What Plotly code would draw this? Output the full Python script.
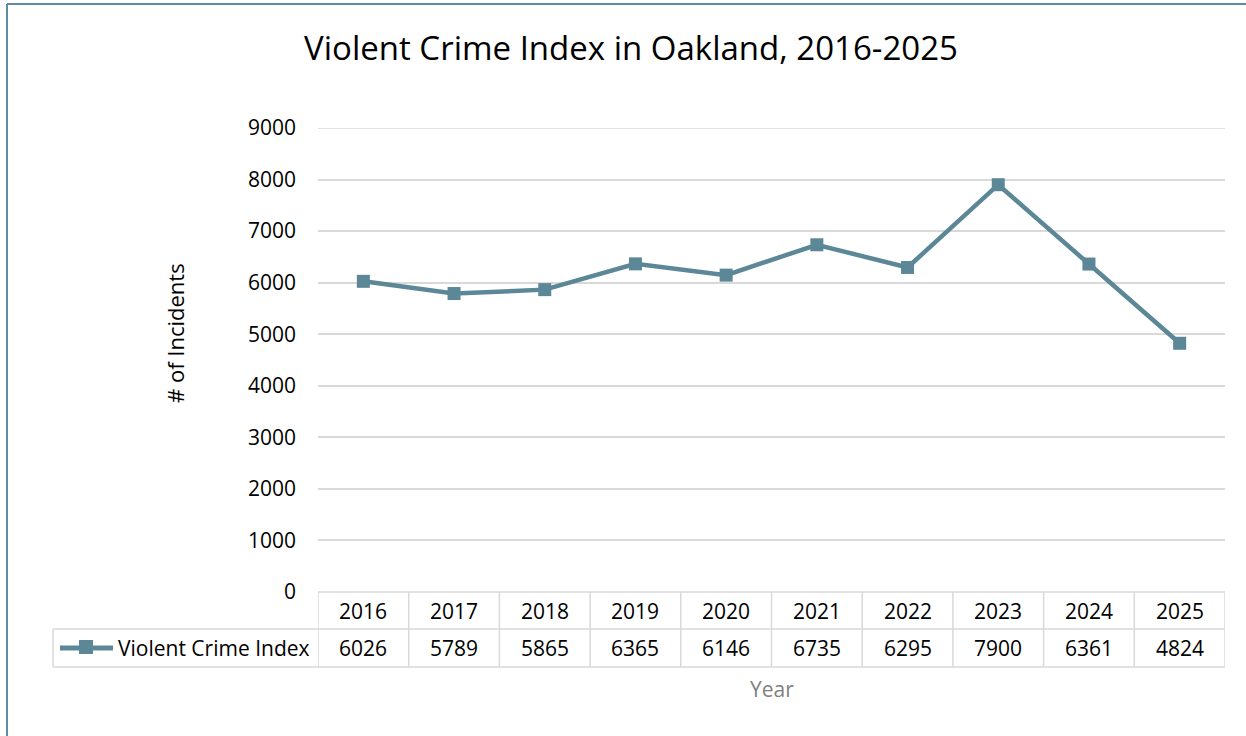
import plotly.graph_objects as go

# ---- data ----
years = [2016, 2017, 2018, 2019, 2020, 2021, 2022, 2023, 2024, 2025]
incidents = [6026, 5789, 5865, 6365, 6146, 6735, 6295, 7900, 6361, 4824]
series_name = "Violent Crime Index"
title_text = "Violent Crime Index in Oakland, 2016-2025"
y_title = "# of Incidents"
x_title = "Year"
y_ticks = [0, 1000, 2000, 3000, 4000, 5000, 6000, 7000, 8000, 9000]

# ---- styling / layout ----
W, H = 1246, 736
PL, PR, PT, PB = 318, 1225, 128, 592  # plot area in pixels
LINE_COLOR = "#5B8797"
GRID = "#D9D9D9"
FONT = "Open Sans"
FS = 21

def px(xp):
    return (xp - PL) / (PR - PL)

def py(yp):
    return (PB - yp) / (PB - PT)

fig = go.Figure()
fig.add_trace(go.Scatter(
    x=years, y=incidents, mode="lines+markers", name=series_name,
    line=dict(color=LINE_COLOR, width=4.5),
    marker=dict(symbol="square", size=13, color=LINE_COLOR),
    showlegend=False, cliponaxis=False,
))

shapes = []
annotations = []
x0, x1 = years[0] - 0.5, years[-1] + 0.5
row1_top, row_mid, row_bot = 592, 629, 667
legend_left = 53
bw = 1.5

# top gridline at the range edge
shapes.append(dict(type="line", xref="paper", yref="y", x0=0, x1=1,
                   y0=y_ticks[-1], y1=y_ticks[-1], line=dict(color=GRID, width=1.5),
                   layer="below"))

# table horizontal lines
shapes.append(dict(type="line", xref="x", yref="paper", x0=x0, x1=x1,
                   y0=py(row1_top), y1=py(row1_top), line=dict(color=GRID, width=bw)))
for yy in (row_mid, row_bot):
    shapes.append(dict(type="line", xref="paper", yref="paper", x0=px(legend_left), x1=1,
                       y0=py(yy), y1=py(yy), line=dict(color=GRID, width=bw)))
# table vertical lines
for i in range(len(years) + 1):
    xv = years[0] - 0.5 + i
    shapes.append(dict(type="line", xref="x", yref="paper", x0=xv, x1=xv,
                       y0=py(row1_top), y1=py(row_bot), line=dict(color=GRID, width=bw)))
shapes.append(dict(type="line", xref="paper", yref="paper", x0=px(legend_left), x1=px(legend_left),
                   y0=py(row_mid), y1=py(row_bot), line=dict(color=GRID, width=bw)))

# table text
for yr, v in zip(years, incidents):
    annotations.append(dict(x=yr, y=py((row1_top + row_mid) / 2), xref="x", yref="paper",
                            text=str(yr), showarrow=False, yanchor="middle",
                            font=dict(family=FONT, size=FS, color="#000000")))
    annotations.append(dict(x=yr, y=py((row_mid + row_bot) / 2), xref="x", yref="paper",
                            text=str(v), showarrow=False, yanchor="middle",
                            font=dict(family=FONT, size=FS, color="#000000")))

# legend key in table
key_y = py((row_mid + row_bot) / 2)
shapes.append(dict(type="line", xref="paper", yref="paper", x0=px(60), x1=px(113),
                   y0=key_y, y1=key_y, line=dict(color=LINE_COLOR, width=5)))
shapes.append(dict(type="rect", xref="paper", yref="paper", x0=px(79), x1=px(93),
                   y0=py(640), y1=py(654), line=dict(width=0), fillcolor=LINE_COLOR))
annotations.append(dict(x=px(116), y=key_y, xref="paper", yref="paper", xanchor="left",
                        yanchor="middle", text=series_name, showarrow=False,
                        font=dict(family=FONT, size=FS, color="#000000")))

# x-axis title
annotations.append(dict(x=0.5, y=py(689), xref="paper", yref="paper", text=x_title,
                        showarrow=False, yanchor="middle",
                        font=dict(family=FONT, size=FS, color="#7F7F7F")))

# y-axis title
annotations.append(dict(x=px(175), y=py(333), xref="paper", yref="paper", text=y_title,
                        showarrow=False, xanchor="center", yanchor="middle", textangle=-90,
                        font=dict(family=FONT, size=22, color="#000000")))

# outer chart border (top and left visible)
shapes.append(dict(type="line", xref="paper", yref="paper", x0=px(7), x1=px(W + 5),
                   y0=py(4), y1=py(4), line=dict(color="#5E8CA0", width=2)))
shapes.append(dict(type="line", xref="paper", yref="paper", x0=px(7), x1=px(7),
                   y0=py(4), y1=py(H + 5), line=dict(color="#5E8CA0", width=2)))

fig.update_layout(
    width=W, height=H,
    margin=dict(l=PL, r=W - PR, t=PT, b=H - PB, pad=0),
    paper_bgcolor="white", plot_bgcolor="white",
    font=dict(family=FONT, color="#000000"),
    title=dict(text=title_text, xref="container", yref="container",
               x=631 / W, y=1 - 48 / H, xanchor="center", yanchor="middle",
               font=dict(family=FONT, size=33, color="#000000")),
    xaxis=dict(range=[x0, x1], showticklabels=False, showgrid=False, zeroline=False,
               showline=False, ticks=""),
    yaxis=dict(range=[0, 9000], tickvals=y_ticks, showgrid=True, gridcolor=GRID,
               gridwidth=1.5, zeroline=False, showline=False, ticks="",
               ticklabelstandoff=21, tickfont=dict(family=FONT, size=FS, color="#000000")),
    shapes=shapes, annotations=annotations,
)

fig.write_html("out.html", config={"displayModeBar": False},
               post_script="document.body.style.margin='0';")
